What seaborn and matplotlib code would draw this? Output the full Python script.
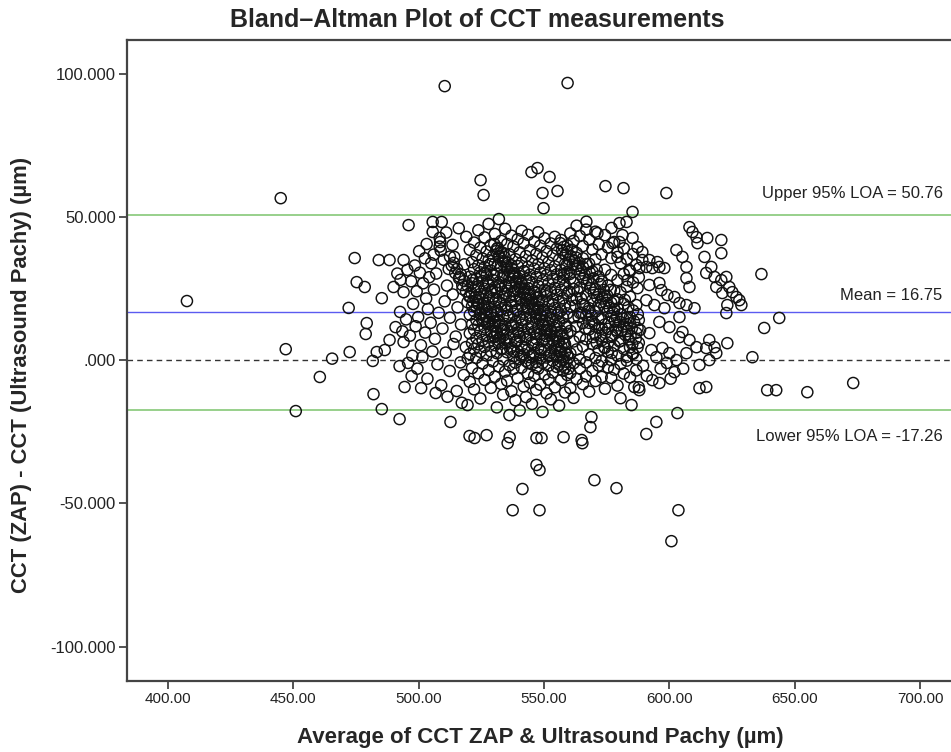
import numpy as np
import pandas as pd
import seaborn as sns
from matplotlib import pyplot as plt
from matplotlib.ticker import FuncFormatter

# Bland-Altman summary values
mean_diff = 16.75
upper_loa = 50.76
lower_loa = -17.26

# (average, difference) pairs, grouped by region
sparse_pts = [
    (407.6, 20.6), (445.0, 56.5), (447.0, 3.8), (451.0, -17.8), (460.6, -5.9), (465.5, 0.5),
    (472.5, 2.8), (474.5, 35.6), (475.3, 27.2), (478.5, 25.5), (472.1, 18.2), (479.3, 12.9),
    (478.9, 9.1), (482.0, -11.9), (485.3, -17.1), (492.4, -20.6), (510.4, 95.6), (559.4, 96.7),
    (524.7, 62.8), (525.9, 57.6), (545.0, 65.6), (547.4, 67.0), (552.2, 63.9), (549.4, 58.3),
    (555.4, 59.0), (574.5, 60.7), (581.7, 60.0), (598.8, 58.3), (549.8, 53.0), (585.3, 51.7),
    (636.7, 30.0), (643.8, 14.7), (637.8, 11.2), (633.1, 1.0), (673.3, -8.0), (655.0, -11.2),
    (642.6, -10.5), (639.0, -10.5), (614.7, -9.4), (612.0, -9.8), (603.2, -18.5), (594.8, -21.6),
    (590.8, -25.8), (584.9, -15.7), (580.5, -13.3), (512.7, -21.6), (519.5, -15.7), (520.3, -26.5),
    (522.3, -27.2), (527.1, -26.2), (536.3, -26.9), (535.5, -29.0), (547.0, -27.2), (549.0, -27.2),
    (557.8, -26.9), (565.0, -27.9), (565.3, -29.0), (568.9, -19.9), (568.5, -23.4), (547.0, -36.6),
    (548.2, -38.4), (541.4, -45.0), (570.1, -41.9), (578.9, -44.7), (537.5, -52.4), (548.2, -52.4),
    (603.6, -52.4), (600.8, -63.2),
]

left_pts = [
    (496.0, 47.1), (505.6, 48.2), (509.2, 48.2), (505.6, 44.7), (508.4, 42.6), (508.6, 41.2),
    (508.4, 39.6), (508.8, 38.2), (484.1, 34.9), (488.4, 34.9), (494.0, 34.9), (485.3, 21.6),
    (490.0, 25.5), (494.0, 23.7), (483.3, 2.8), (486.5, 3.5), (488.4, 7.0), (494.0, 6.3),
    (481.7, -0.3), (492.4, -2.1), (497.2, -5.6), (494.4, -9.4),
    (491.5, 30.2), (492.8, 28.0), (495.5, 31.5), (497.0, 27.5), (498.5, 33.0), (499.2, 24.0),
    (500.5, 30.5), (501.8, 26.8), (502.5, 35.5), (503.0, 21.5), (504.2, 28.9), (505.0, 33.8),
    (506.1, 24.6), (507.0, 30.2), (503.7, 17.8), (499.8, 15.0), (497.8, 19.6), (495.0, 14.2),
    (492.6, 16.8), (490.8, 11.5), (493.5, 10.0), (496.5, 8.5), (498.8, 11.8), (500.9, 5.2),
    (502.6, 9.6), (504.8, 13.0), (506.5, 7.4), (508.0, 16.5), (509.5, 11.0), (510.4, 20.5),
    (511.3, 26.0), (512.0, 31.8), (512.5, 14.8), (513.6, 22.9), (514.2, 36.0), (514.8, 8.2),
    (515.5, 18.4), (516.3, 29.0), (516.9, 12.4), (517.5, 24.8), (518.2, 33.4), (518.8, 4.5),
    (519.5, 20.2), (497.5, 1.5), (499.5, -3.0), (501.5, 1.0), (503.5, -6.5), (505.5, 3.0),
    (507.5, -1.5), (509.0, -8.8), (510.8, 2.6), (512.4, -3.8), (513.9, 5.6), (515.2, -10.8),
    (516.7, -0.8), (518.0, -5.2), (519.6, 0.6), (506.8, -11.5), (511.5, -12.8), (517.2, -14.9),
    (501.0, -9.8), (495.8, -1.0), (500.2, 38.0), (503.2, 40.5), (511.0, 44.5), (513.5, 40.2),
    (516.0, 46.0), (519.0, 43.0), (510.0, 35.0), (506.0, 36.8),
]

# dense middle block: column x value and the differences stacked above it
mid_cols = [
    (520.4, [38.5, 29.1, 22.4, 15.8, 9.3, 2.1, -7.6]),
    (521.3, [34.2, 26.8, 18.9, 12.5, 6.0, -2.8]),
    (522.1, [41.0, 31.7, 24.3, 17.1, 10.6, 3.9, -10.2]),
    (523.0, [36.6, 28.4, 20.8, 14.0, 7.7, 0.8]),
    (523.8, [45.3, 33.0, 25.7, 19.4, 12.2, 5.5, -4.6]),
    (524.6, [39.2, 30.6, 23.1, 16.5, 9.9, 2.9, -13.4]),
    (525.5, [35.4, 27.6, 21.2, 13.9, 7.0, -1.2]),
    (526.3, [42.8, 32.4, 24.9, 18.3, 11.4, 4.6, -6.9]),
    (527.1, [37.9, 29.5, 22.6, 15.2, 8.8, 1.6]),
    (527.9, [47.5, 34.8, 26.3, 19.9, 13.1, 6.2, -3.5]),
    (528.8, [40.1, 31.2, 23.8, 16.9, 10.2, 3.1, -9.7]),
    (529.6, [36.2, 28.0, 21.5, 14.6, 7.9, -0.5]),
    (530.4, [44.0, 33.7, 25.4, 18.6, 12.0, 5.2, -5.8]),
    (531.2, [38.8, 30.1, 23.5, 16.0, 9.4, 2.4, -16.5]),
    (532.0, [49.2, 35.9, 27.2, 20.3, 13.6, 6.8, -2.2]),
    (532.9, [41.6, 32.3, 24.8, 17.7, 10.9, 3.8, -8.3]),
    (533.7, [37.4, 29.0, 22.0, 15.3, 8.5, 0.2, -12.1]),
    (534.5, [45.8, 34.4, 26.0, 19.1, 12.6, 5.9, -4.0]),
    (535.3, [40.5, 31.6, 24.2, 17.4, 10.3, 2.7, -7.2]),
    (536.2, [36.9, 28.7, 21.9, 14.8, 7.6, -1.8, -19.2]),
    (537.0, [43.4, 33.1, 25.8, 18.8, 11.7, 4.4, -10.9]),
    (537.8, [39.6, 30.4, 23.0, 16.2, 9.0, 1.3, -3.1]),
    (538.6, [35.2, 27.5, 20.6, 13.3, 6.4, -0.9, -14.0]),
    (539.5, [42.2, 32.8, 24.5, 17.6, 10.8, 3.2, -6.3]),
    (540.3, [37.6, 29.3, 22.2, 15.0, 8.1, 0.4, -17.6]),
    (541.1, [45.1, 34.0, 26.5, 19.3, 12.3, 5.0, -2.6]),
    (541.9, [40.8, 31.0, 23.7, 16.6, 9.6, 2.0, -9.2]),
    (542.8, [36.3, 28.2, 21.0, 14.2, 7.2, -0.3, -12.9]),
    (543.6, [43.7, 32.5, 25.1, 18.0, 11.0, 3.6, -4.8]),
    (544.4, [38.4, 29.8, 22.7, 15.6, 8.7, 1.0, -7.9]),
    (545.2, [34.7, 27.0, 20.1, 13.0, 6.1, -1.5, -15.3]),
    (546.1, [41.3, 31.9, 24.0, 17.2, 10.0, 2.5, -5.5]),
    (546.9, [37.0, 28.9, 21.7, 14.5, 7.4, -0.7, -10.4]),
    (547.7, [44.6, 33.5, 25.9, 18.5, 11.6, 4.3, -3.0]),
    (548.5, [39.9, 30.5, 23.2, 16.1, 9.1, 1.7, -8.6]),
    (549.4, [35.8, 27.8, 20.4, 13.5, 6.6, -1.0, -18.1]),
    (550.2, [42.5, 32.0, 24.6, 17.5, 10.5, 3.4, -5.0]),
    (551.0, [38.0, 29.6, 22.3, 15.4, 8.3, 0.9, -11.6]),
    (551.8, [34.1, 26.7, 19.7, 12.8, 5.8, -2.0, -6.8]),
    (552.7, [40.7, 31.3, 23.9, 16.8, 9.8, 2.6, -13.7]),
    (553.5, [36.5, 28.3, 21.1, 14.1, 7.1, -0.2, -4.3]),
    (554.3, [43.0, 32.7, 25.2, 18.2, 11.2, 4.0, -9.5]),
    (555.1, [38.9, 29.9, 22.8, 15.7, 8.6, 1.2, -2.4]),
    (556.0, [35.0, 27.3, 20.2, 13.2, 6.3, -1.6, -15.9]),
    (556.8, [41.9, 31.4, 24.4, 17.3, 10.1, 2.9, -7.0]),
    (557.6, [37.3, 28.8, 21.6, 14.7, 7.5, 0.1, -3.7]),
    (558.4, [33.6, 26.1, 19.0, 12.1, 5.4, -2.7, -11.3]),
    (559.3, [40.0, 30.7, 23.3, 16.3, 9.2, 1.9, -5.2]),
    (560.5, [44.2, 28.5, 18.7, 10.2, 2.3, -4.5, -9.8]),
    (561.8, [41.6, 24.8, 14.9, 6.5, -1.1, -13.2]),
    (563.0, [46.9, 37.4, 21.5, 11.8, 3.7, -6.6]),
    (564.3, [43.3, 25.3, 16.4, 8.0, 0.2, -2.9]),
    (565.5, [39.8, 35.5, 19.5, 12.9, 4.8, -8.4]),
    (566.8, [45.5, 22.6, 15.6, 7.3, -0.8, -5.7]),
    (568.0, [42.0, 33.6, 18.1, 10.7, 2.0, -11.0]),
    (569.3, [38.6, 30.9, 20.9, 13.6, 5.6, -3.8]),
    (570.5, [44.8, 35.2, 16.9, 8.9, 0.7, -7.3]),
    (571.8, [40.4, 29.2, 19.0, 11.3, 3.4, -1.9]),
    (573.0, [36.9, 27.4, 14.4, 6.9, -0.4, -5.9]),
    (574.3, [43.6, 31.5, 22.3, 12.4, 4.2, -10.0]),
    (575.5, [39.3, 26.0, 10.9, 2.8, -2.5]),
    (576.8, [35.6, 29.7, 20.0, 8.1, 0.0, -6.2]),
    (578.0, [41.2, 24.2, 17.8, 5.0, -3.3]),
    (579.3, [37.7, 27.9, 21.2, 9.7, 1.5, -8.9]),
    (580.5, [33.8, 23.7, 6.7, -1.4]),
    (581.8, [39.0, 30.0, 19.6, 3.9, -4.7]),
    (583.0, [35.3, 25.6, 14.8, 1.1, -0.2]),
    (584.3, [31.1, 22.1, 12.8, 4.4, -6.0]),
    (585.5, [37.0, 27.1, 17.3, 2.2]),
    (586.8, [33.2, 19.2, 9.5, 0.4, -3.6]),
    (587.8, [28.9, 14.0, 6.0, -9.5]),
]

# the three darker diagonal streaks
band_pts = [
    (512.5, 36.1), (513.2, 33.0), (514.0, 33.9), (514.6, 30.4), (515.3, 31.8), (516.1, 28.5),
    (516.8, 29.9), (517.4, 26.2), (518.2, 27.6), (518.9, 24.0), (519.6, 25.8), (520.3, 22.1),
    (521.0, 23.5), (521.7, 20.4), (522.5, 21.8), (523.1, 18.3), (523.9, 19.6), (524.6, 16.0),
    (525.2, 17.9), (526.0, 14.3), (526.7, 15.5), (527.4, 12.6), (528.1, 13.4), (528.9, 10.1),
    (529.5, 11.8), (530.3, 8.2), (531.0, 9.6), (531.8, 6.0), (532.5, 7.7), (533.3, 4.1),
    (530.2, 40.5), (530.9, 38.0), (531.6, 39.2), (532.2, 36.4), (532.9, 37.6), (533.6, 34.5),
    (534.3, 35.9), (535.0, 32.7), (535.6, 34.0), (536.3, 30.8), (537.0, 32.1), (537.6, 29.0),
    (538.3, 30.3), (539.0, 27.1), (539.6, 28.6), (540.3, 25.3), (541.0, 26.8), (541.6, 23.4),
    (542.3, 24.9), (543.0, 21.6), (543.6, 23.0), (544.3, 19.8), (545.0, 21.1), (545.6, 17.9),
    (546.3, 19.3), (547.0, 16.0), (547.6, 17.5), (548.3, 14.2), (549.0, 15.6), (549.6, 12.4),
    (550.3, 13.8), (551.0, 10.5), (551.6, 11.9), (552.3, 8.7), (553.0, 10.1), (553.6, 6.8),
    (554.3, 8.2), (555.0, 4.9), (555.6, 6.4), (556.3, 3.1), (557.0, 4.5), (557.6, 1.2),
    (558.3, 2.6), (559.0, -0.6), (559.8, 0.8),
    (556.5, 40.8), (557.2, 38.3), (557.9, 39.5), (558.6, 36.6), (559.3, 37.8), (560.0, 35.1),
    (560.7, 36.2), (561.4, 33.3), (562.1, 34.6), (562.8, 31.7), (563.5, 32.9), (564.2, 30.0),
    (564.9, 31.3), (565.6, 28.4), (566.3, 29.7), (567.0, 26.8), (567.7, 28.0), (568.4, 25.1),
    (569.1, 26.4), (569.8, 23.5), (570.5, 24.8), (571.2, 21.9), (571.9, 23.1), (572.6, 20.2),
    (573.3, 21.5), (574.0, 18.6), (574.7, 19.9), (575.4, 17.0), (576.1, 18.2), (576.8, 15.3),
    (577.5, 16.6), (578.2, 13.7), (578.9, 15.0), (579.6, 12.1), (580.3, 13.3), (581.0, 10.4),
    (581.7, 11.7), (582.4, 8.8), (583.1, 10.1), (583.8, 7.2), (584.5, 8.4), (585.2, 5.5),
]

# extra points filling the darkest parts of the cloud
core_pts = [
    (526.5, 30.5), (527.5, 27.0), (528.5, 33.5), (529.2, 24.5), (530.0, 29.5), (530.8, 21.0),
    (531.5, 33.0), (532.3, 26.0), (533.0, 19.5), (533.8, 29.8), (534.6, 23.2), (535.4, 15.5),
    (536.0, 27.0), (536.8, 20.5), (537.5, 12.0), (538.2, 24.0), (539.0, 17.5), (539.8, 9.5),
    (540.5, 21.5), (541.3, 14.0), (542.0, 31.0), (542.7, 8.0), (543.5, 18.5), (544.2, 27.5),
    (545.0, 11.5), (545.8, 5.5), (546.5, 23.5), (547.2, 9.0), (548.0, 20.5), (548.8, 3.5),
    (549.5, 17.5), (550.3, 7.5), (551.1, 24.0), (551.9, 1.5), (552.6, 14.5), (553.4, 19.5),
    (554.2, 2.0), (555.0, 12.0), (555.8, 16.5), (556.5, -0.5), (557.3, 9.0), (558.1, 6.0),
    (558.9, 11.5), (559.7, -3.0),
    (521.5, 28.0), (522.8, 25.5), (524.0, 22.0), (525.0, 29.5), (526.0, 20.0), (527.0, 17.5),
    (528.0, 22.0), (529.0, 16.0), (530.5, 13.5), (531.5, 17.0), (532.5, 12.0), (534.0, 10.5),
    (535.0, 7.0), (536.5, 4.0), (538.0, 3.0), (539.2, 6.5), (540.8, 1.5), (542.2, 4.5),
    (543.8, -1.0), (545.5, 1.5), (547.0, -2.5), (548.5, 0.5),
    (560.2, 30.0), (561.0, 38.5), (561.9, 27.0), (562.7, 35.8), (563.4, 24.0), (564.0, 34.0),
    (564.8, 21.5), (565.5, 32.5), (566.2, 19.0), (566.9, 33.5), (567.6, 17.0), (568.3, 30.5),
    (569.0, 15.5), (569.7, 28.5), (570.3, 12.5), (571.0, 31.5), (571.7, 14.5), (572.4, 26.5),
    (573.1, 11.0), (573.8, 24.5), (574.5, 9.5), (575.2, 22.5), (575.9, 13.0), (576.6, 24.5),
    (577.3, 8.5), (578.0, 20.5), (578.7, 10.5), (579.4, 18.0), (580.1, 6.5), (580.8, 16.0),
    (581.5, 14.5), (582.2, 21.0), (582.9, 12.5), (583.6, 18.5), (584.3, 15.0), (585.0, 11.0),
    (585.9, 13.5), (586.6, 7.5), (587.4, 16.0), (588.3, 10.5),
    (558.0, 30.0), (559.0, 33.0), (560.0, 24.0), (561.2, 21.0), (562.5, 19.0), (563.8, 15.0),
    (565.0, 16.5), (566.5, 11.0), (568.0, 13.0), (569.5, 8.0), (571.0, 6.0), (572.5, 8.5),
    (574.0, 4.5), (575.5, 6.0), (577.0, 2.5),
]

right_pts = [
    (566.9, 48.3), (571.3, 44.3), (576.9, 46.1), (580.1, 47.8), (582.9, 48.2), (581.3, 43.6),
    (585.3, 42.6), (587.3, 39.4), (589.2, 37.7), (577.3, 40.8), (580.1, 41.2), (579.3, 36.0),
    (584.1, 31.4), (588.0, 32.1), (590.8, 32.5), (593.2, 32.1), (596.0, 32.5), (598.0, 32.1),
    (589.2, 34.9), (592.0, 34.9), (595.2, 34.2), (583.3, 27.9), (587.3, 25.1), (592.0, 26.2),
    (596.0, 26.9), (596.8, 24.4), (599.2, 22.7), (602.0, 22.0), (604.0, 19.9), (606.8, 19.2),
    (610.0, 18.1), (590.8, 20.9), (594.0, 19.2), (598.0, 18.1), (604.0, 15.0), (596.0, 13.3),
    (600.0, 11.5), (605.2, 9.8), (604.0, 8.0), (608.0, 7.0), (610.8, 4.5), (614.7, 4.2),
    (618.0, 4.5), (623.1, 5.9), (618.7, 2.4), (615.9, 7.0), (587.3, 11.2), (592.0, 9.4),
    (587.3, 4.5), (592.8, 3.5), (597.2, 4.2), (585.3, 2.4), (594.8, 1.0), (600.0, 2.4),
    (608.0, 46.4), (609.2, 44.7), (610.8, 42.9), (611.2, 40.8), (602.8, 38.4), (605.2, 36.0),
    (606.8, 32.5), (606.8, 28.6), (608.0, 25.5), (615.1, 42.6), (620.7, 41.9), (620.7, 37.3),
    (614.0, 36.0), (616.7, 32.5), (614.7, 30.4), (618.0, 29.0), (620.7, 27.9), (622.7, 29.0),
    (618.7, 25.5), (623.9, 25.5), (621.1, 23.4), (625.1, 23.7), (626.7, 22.0), (628.7, 19.2),
    (623.1, 19.2), (622.7, 16.4), (627.9, 20.9), (612.0, -1.7), (615.9, 0.0), (602.8, 0.0),
    (606.8, 2.4), (593.2, -7.0), (588.0, -10.5), (586.0, -9.4), (589.5, -2.0), (591.0, -5.5),
    (596.5, -3.0), (599.0, -1.0), (602.0, -4.2), (596.0, -8.0), (600.5, -6.5), (605.5, -3.0),
]

x_ticks = [400, 450, 500, 550, 600, 650, 700]
y_ticks = [-100, -50, 0, 50, 100]


def build_df():
    pts = list(sparse_pts) + list(left_pts) + list(band_pts) + list(core_pts) + list(right_pts)
    for x, ys in mid_cols:
        pts += [(x, y) for y in ys]
    return pd.DataFrame(pts, columns=["avg", "diff"])


def plot(df):
    sns.set_style("white")
    plt.rcParams["font.family"] = ["Liberation Sans", "DejaVu Sans"]
    plt.rcParams["axes.unicode_minus"] = False

    fig = plt.figure(figsize=(9.51, 7.52), dpi=100)
    ax = fig.add_axes([127 / 951, 1 - 681 / 752, 1 - 127 / 951, (681 - 40) / 752])

    ax.axhline(upper_loa, color="#7cc46c", lw=1.1, zorder=1)
    ax.axhline(lower_loa, color="#7cc46c", lw=1.1, zorder=1)
    ax.axhline(mean_diff, color="#5b5bf0", lw=1.0, zorder=1)
    ax.axhline(0, color="#333333", lw=1.0, ls=(0, (4, 3)), zorder=1)

    sns.scatterplot(data=df, x="avg", y="diff", ax=ax, s=64, marker="o",
                    facecolors="none", edgecolor="#111111", linewidth=1.05, zorder=3)

    ax.set_xlim(383.7, 712.3)
    ax.set_ylim(-112.0, 111.7)
    ax.set_xticks(x_ticks)
    ax.set_yticks(y_ticks)
    ax.xaxis.set_major_formatter(FuncFormatter(lambda v, p: f"{v:.2f}"))
    ax.yaxis.set_major_formatter(
        FuncFormatter(lambda v, p: ".000" if v == 0 else f"{v:.3f}"))
    ax.tick_params(axis="both", direction="out", length=6, width=1.3,
                   color="#444444", labelcolor="#222222", pad=2,
                   bottom=True, left=True)
    ax.tick_params(axis="x", labelsize=11)
    ax.tick_params(axis="y", labelsize=12)

    for side in ["left", "top", "bottom"]:
        ax.spines[side].set_color("#444444")
        ax.spines[side].set_linewidth(1.6)
    ax.spines["right"].set_visible(False)

    ax.text(709, 58.3, "Upper 95% LOA = 50.76", ha="right", va="center", fontsize=12, color="#222222")
    ax.text(709, 22.5, "Mean = 16.75", ha="right", va="center", fontsize=12, color="#222222")
    ax.text(709, -26.5, "Lower 95% LOA = -17.26", ha="right", va="center", fontsize=12, color="#222222")

    ax.set_ylabel("")
    ax.set_xlabel("")
    fig.text(540 / 951, 1 - 738 / 752, "Average of CCT ZAP & Ultrasound Pachy (µm)",
             ha="center", va="center", fontsize=16, fontweight="bold")
    fig.text(22 / 951, 1 - 375 / 752, "CCT (ZAP) - CCT (Ultrasound Pachy) (µm)", rotation=90,
             ha="center", va="center", fontsize=15.8, fontweight="bold")
    fig.text(0.502, 1 - 20 / 752, "Bland\u2013Altman Plot of CCT measurements",
             ha="center", va="center", fontsize=18, fontweight="bold")

    fig.savefig("out.png", dpi=100)


def main():
    df = build_df()
    plot(df)


if __name__ == "__main__":
    main()
